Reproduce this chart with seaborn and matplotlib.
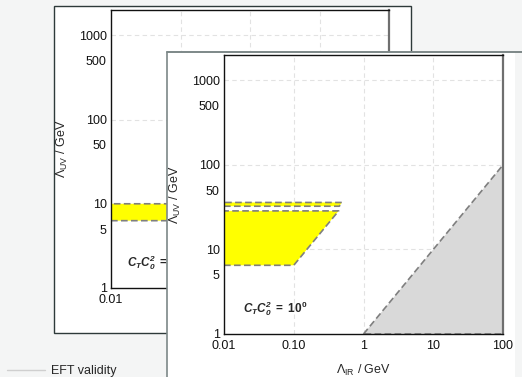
import matplotlib
matplotlib.use('Agg')
import matplotlib.pyplot as plt
import seaborn as sns
from matplotlib.patches import Rectangle
from matplotlib.lines import Line2D

W, H = 522, 377  # output size in pixels

### data ############################################################
x_ticks = [0.01, 0.1, 1, 10, 100]
x_tick_labels = ['0.01', '0.10', '1', '10', '100']
y_ticks = [1, 5, 10, 50, 100, 500, 1000]
y_tick_labels = ['1', '5', '10', '50', '100', '500', '1000']
x_grid = [0.1, 1, 10]
y_grid = [10, 100, 1000]

# back panel: allowed region (mostly hidden behind the front panel)
back_x = [0.01, 0.3, 0.46, 0.01, 0.01]
back_y = [6.3, 6.3, 10.0, 10.0, 6.3]

# front panel: allowed regions
main_x = [0.01, 0.1, 0.44, 0.01, 0.01]
main_y = [6.5, 6.5, 28.6, 28.6, 6.5]
band_x = [0.01, 0.45, 0.49, 0.01, 0.01]
band_y = [32.5, 32.5, 36.0, 36.0, 32.5]

# front panel: excluded region (Lambda_UV < Lambda_IR)
excl_x = [1, 100, 100, 1]
excl_y = [1, 100, 1, 1]

label_text = r'$\mathbfit{C_T C_0^2}\ \mathbf{=\ 10^0}$'
back_label_text = r'$\mathbfit{C_T C_0^2}\ \mathbf{=}$'

### style ###########################################################
sns.set_theme(style='white')
plt.rcParams['font.family'] = ['Liberation Sans', 'DejaVu Sans']
plt.rcParams['mathtext.fontset'] = 'custom'
plt.rcParams['mathtext.rm'] = 'Liberation Sans'
plt.rcParams['mathtext.it'] = 'Liberation Sans:italic'
plt.rcParams['mathtext.bf'] = 'Liberation Sans:bold'
plt.rcParams['mathtext.bfit'] = 'Liberation Sans:bold:italic'

FS = 9
BG = '#f4f5f5'
YELLOW = '#ffff00'
DASH = '#7f7f7f'


def px_box(x0, y0, x1, y1):  # pixel box (top-left origin) -> figure fraction
    return [x0 / W, 1 - y1 / H, (x1 - x0) / W, (y1 - y0) / H]


def outline(ax, xs, ys, z):
    sns.lineplot(x=xs, y=ys, sort=False, estimator=None, ax=ax, color=DASH,
                 lw=1.2, linestyle=(0, (4, 2)), zorder=z, legend=False)


def setup_axes(ax):
    ax.set_xscale('log'); ax.set_yscale('log')
    ax.set_xlim(0.01, 100); ax.set_ylim(1, 2000)
    for v in x_grid:
        ax.axvline(v, color='#e2e2e2', lw=0.8, ls=(0, (4, 3)), zorder=0.5)
    for v in y_grid:
        ax.axhline(v, color='#e2e2e2', lw=0.8, ls=(0, (4, 3)), zorder=0.5)
    ax.set_xticks(x_ticks, x_tick_labels)
    ax.set_yticks(y_ticks, y_tick_labels)
    ax.tick_params(axis='both', which='major', labelsize=FS, colors='#222222', labelcolor='#111111')
    ax.tick_params(axis='x', which='both', direction='in', length=3, width=0.8, pad=4)
    ax.tick_params(axis='x', which='minor', length=2)
    ax.tick_params(axis='y', which='both', direction='out', length=2.5, width=0.8, pad=0.5)
    ax.tick_params(axis='y', which='minor', length=1.5)
    ax.minorticks_on()
    for s in ax.spines.values():
        s.set_color('#111111'); s.set_linewidth(1.0)
    ax.spines['right'].set_color('#6f6f6f'); ax.spines['right'].set_linewidth(1.6)
    ax.set_ylabel(r'$\Lambda_{\rm UV}$ / GeV', fontsize=FS)
    ax.yaxis.set_label_coords(-41 / 279, 0.5)


fig = plt.figure(figsize=(W / 100, H / 100), dpi=100, facecolor=BG)

### back panel ######################################################
fig.add_artist(Rectangle((54 / W, 1 - 333 / H), (411 - 54) / W, (333 - 6) / H,
                         transform=fig.transFigure, fc='white', ec='#2e3a3a', lw=1.0, zorder=1))
ax_b = fig.add_axes(px_box(111, 10, 389, 288), zorder=2)
setup_axes(ax_b)
ax_b.fill(back_x, back_y, color=YELLOW, lw=0, zorder=1)
outline(ax_b, back_x, back_y, 2)
ax_b.text(16 / 279, 25 / 279, back_label_text, transform=ax_b.transAxes, fontsize=FS - 0.5,
          va='center', ha='left')

### front panel #####################################################
fig.add_artist(Rectangle((167 / W, -0.05), (515 - 167) / W, 1 - 52 / H + 0.05,
                         transform=fig.transFigure, fc='white', ec='none', zorder=3))
fig.add_artist(Line2D([167 / W, 167 / W], [0, 1 - 52 / H], transform=fig.transFigure,
                      color='#7d8888', lw=1.2, zorder=3.1))
fig.add_artist(Line2D([167 / W, 1], [1 - 52 / H, 1 - 52 / H], transform=fig.transFigure,
                      color='#7d8888', lw=1.4, zorder=3.1))

ax_f = fig.add_axes(px_box(224, 55, 503, 334), zorder=4)
setup_axes(ax_f)
ax_f.fill(main_x, main_y, color=YELLOW, lw=0, zorder=1)
ax_f.fill(band_x, band_y, color=YELLOW, lw=0, zorder=1)
outline(ax_f, main_x, main_y, 2)
outline(ax_f, band_x, band_y, 2)
ax_f.fill(excl_x, excl_y, color='#d9d9d9', lw=0, zorder=1)
outline(ax_f, excl_x, excl_y, 2)
ax_f.text(19 / 279, 25 / 279, label_text, transform=ax_f.transAxes, fontsize=FS - 0.5,
          va='center', ha='left')
ax_f.set_xlabel(r'$\Lambda_{\rm IR}$ / GeV', fontsize=FS)
ax_f.xaxis.set_label_coords(0.5, -29 / 279)

### legend ##########################################################
h = Line2D([], [], color='#cfcfcf', lw=1.0)
fig.legend(handles=[h], labels=['EFT validity'], loc='center left', frameon=False,
           bbox_to_anchor=(7 / W, 6 / H), borderpad=0, borderaxespad=0,
           handlelength=3.0, handletextpad=0.55, fontsize=FS)

fig.savefig('out.png', dpi=100, facecolor=BG)
